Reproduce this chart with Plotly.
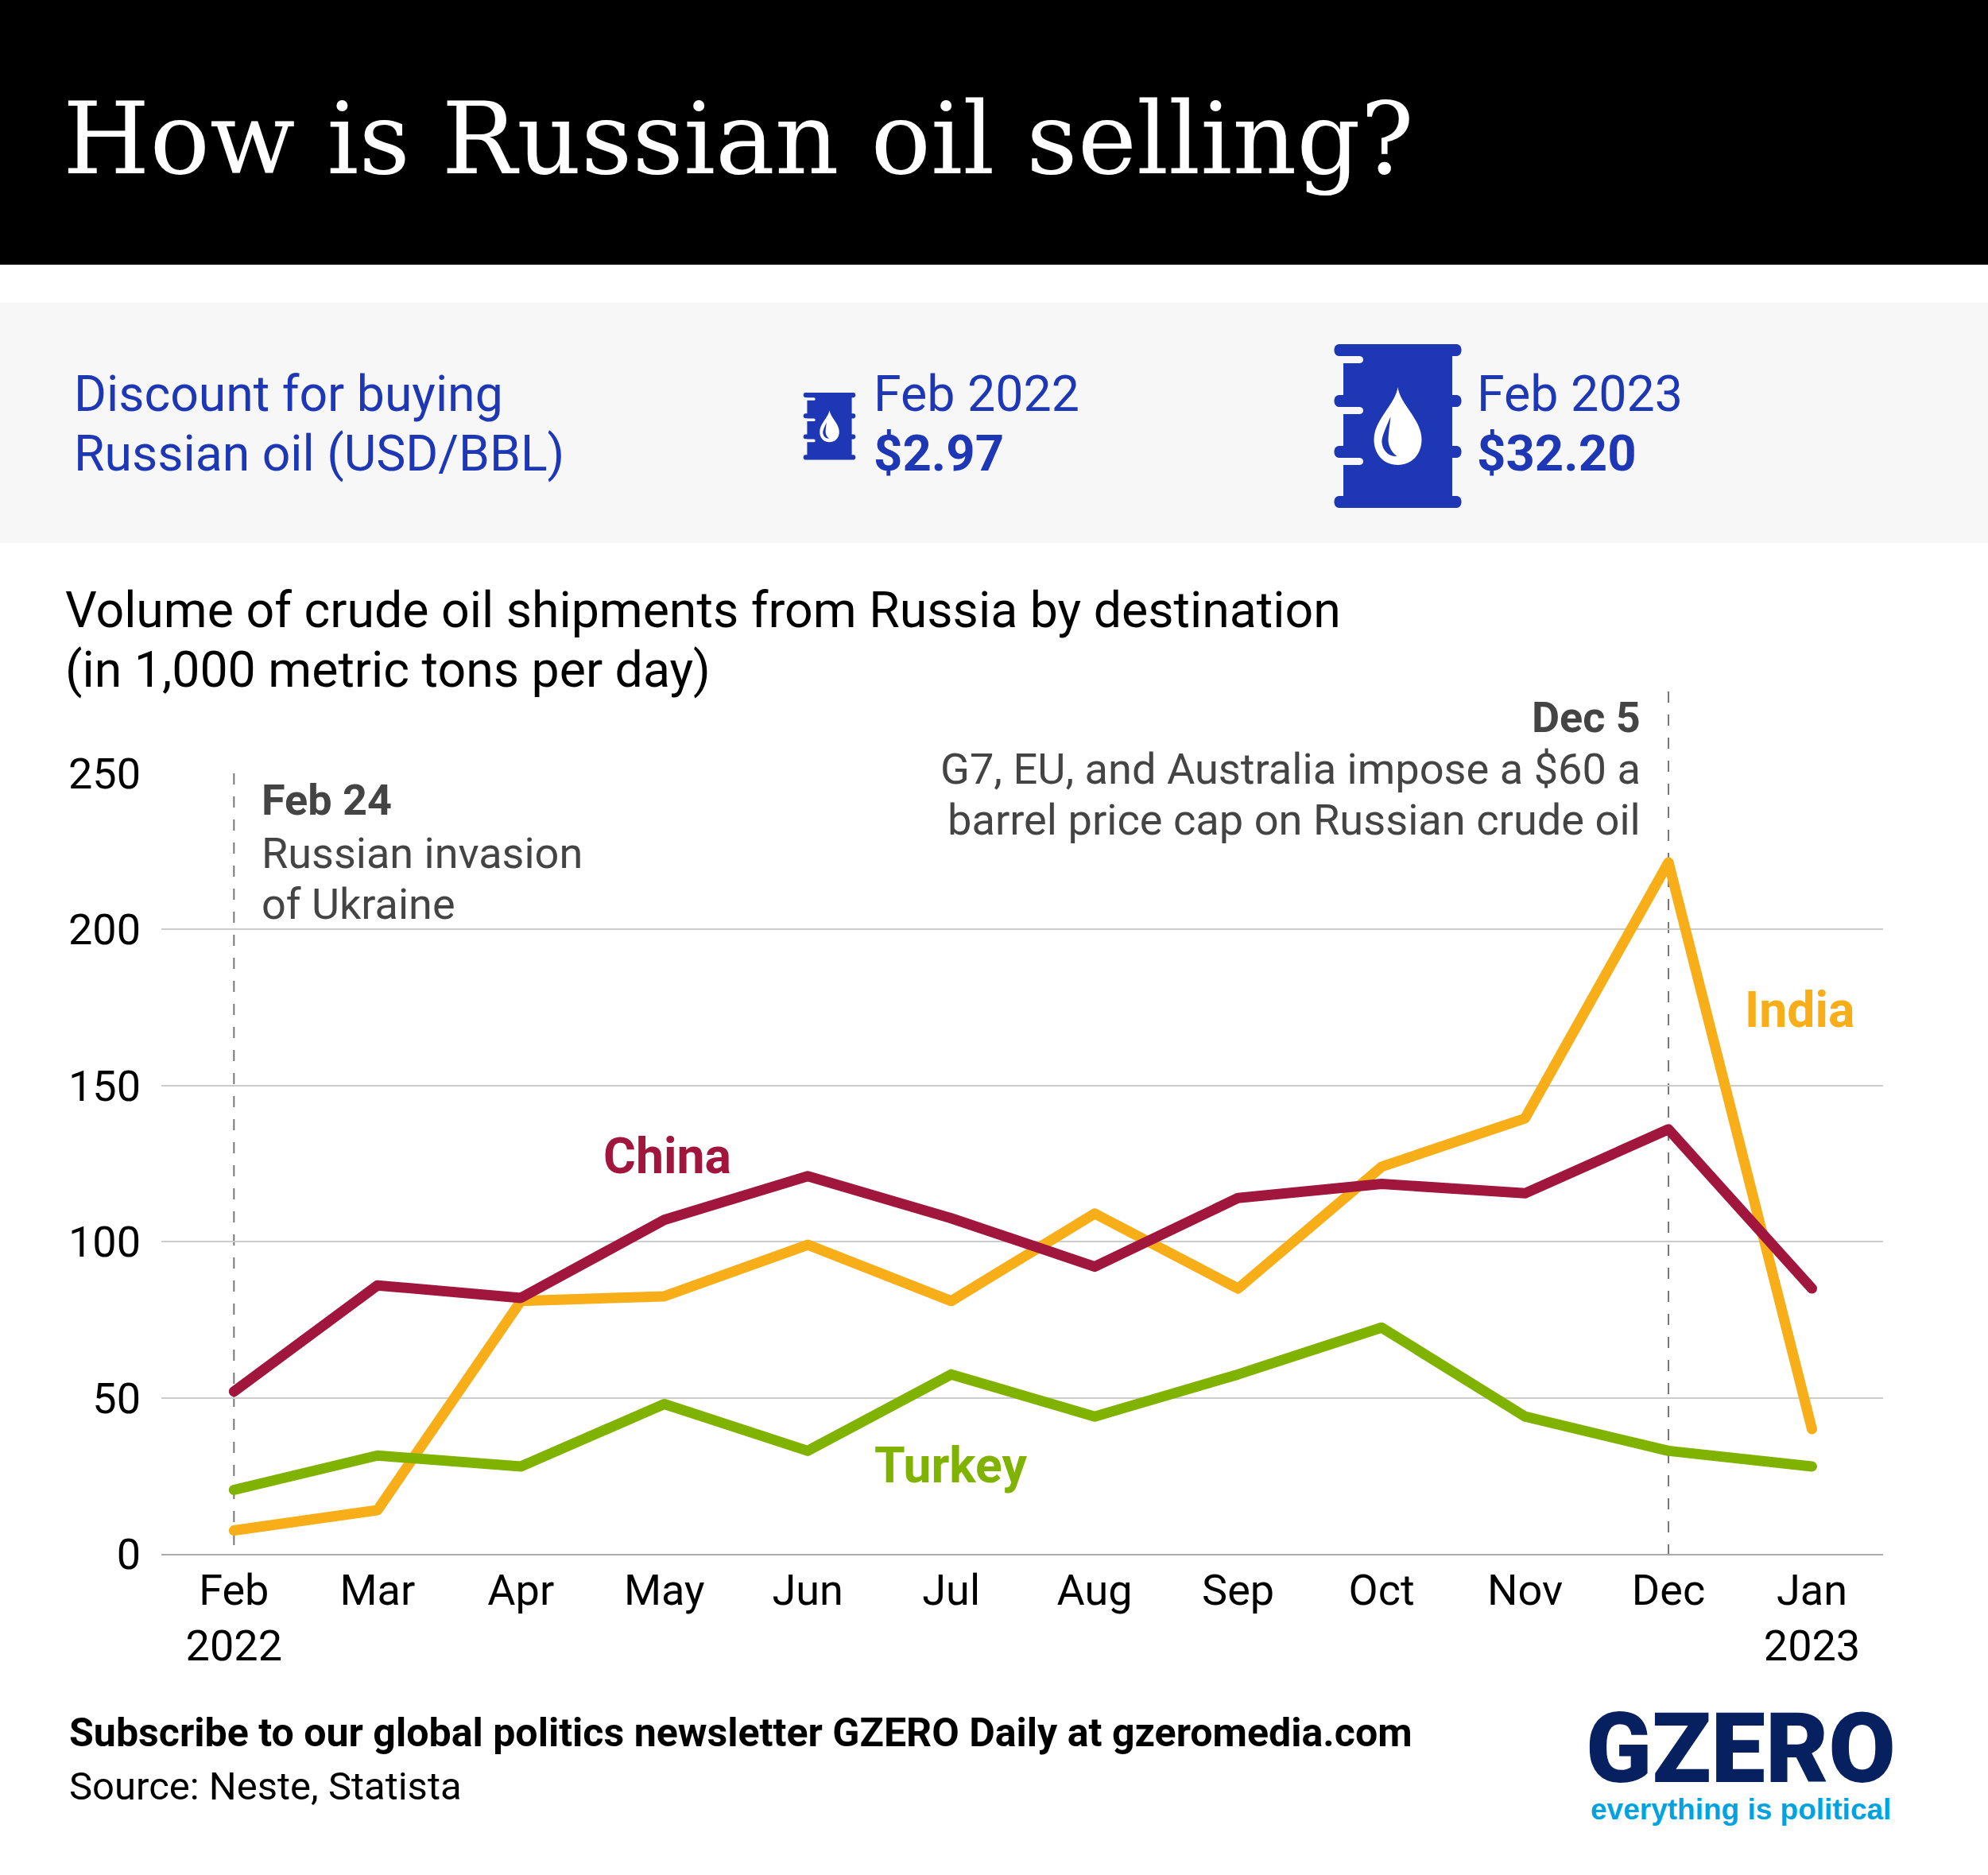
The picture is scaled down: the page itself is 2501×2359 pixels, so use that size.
import plotly.graph_objects as go

W, H = 2501, 2359

months = ["Feb<br>2022", "Mar", "Apr", "May", "Jun", "Jul", "Aug", "Sep", "Oct", "Nov", "Dec", "Jan<br>2023"]
positions = list(range(12))
india = [7.5, 14, 81, 82.5, 99, 81, 109, 85, 124, 139.5, 221.5, 40]
china = [52, 86, 82, 107, 121, 107.5, 92, 114, 118.5, 115.5, 136, 85]
turkey = [20.5, 31.5, 28, 48, 33, 57.5, 44, 57.5, 72.5, 44, 33, 28]
y_ticks = [0, 50, 100, 150, 200, 250]

BLUE = "#1d37b5"
GOLD = "#f7ae18"
RED = "#a0163c"
GREEN = "#80b300"
GREY = "#444444"
FONT = "Roboto"


def fx(x):
    return x / W


def fy(y):
    return 1 - y / H


def p(x, y):
    return f"{fx(x):.5f},{fy(y):.5f}"


fig = go.Figure()
for name, vals, col in [("India", india, GOLD), ("Turkey", turkey, GREEN), ("China", china, RED)]:
    fig.add_trace(go.Scatter(x=positions, y=vals, mode="lines", name=name,
                             line=dict(color=col, width=13), showlegend=False, hoverinfo="skip"))

shapes = []


def rect(x0, y0, x1, y1, color, layer="below"):
    shapes.append(dict(type="rect", xref="paper", yref="paper", x0=fx(x0), x1=fx(x1),
                       y0=fy(y0), y1=fy(y1), fillcolor=color, line_width=0, layer=layer))


rect(0, 0, W, 333, "#000000")
rect(0, 381, W, 683, "#f7f7f7")

for xv, ytop in [(0, 973), (10, 870)]:
    shapes.append(dict(type="line", xref="x", yref="paper", x0=xv, x1=xv, y0=fy(ytop), y1=fy(1955),
                       line=dict(color="#777777", width=2, dash="14px,15px"), layer="between"))

rect(1156, 950, 2089, 995, "#ffffff", "between")


def path(cmds, color):
    shapes.append(dict(type="path", xref="paper", yref="paper", path=cmds, fillcolor=color,
                       line_width=0, layer="above"))


def barrel(cx, top, s):
    X = lambda v: cx + v * s
    Y = lambda v: top + v * s
    P = lambda a, b: p(X(a), Y(b))
    for (a, b) in [(0, 15), (64, 79), (128, 143), (191, 206)]:
        path(f"M{P(-74, a)} L{P(74, a)} C{P(82, a)} {P(82, b)} {P(74, b)} L{P(-74, b)} "
             f"C{P(-82, b)} {P(-82, a)} {P(-74, a)} Z", BLUE)
    shapes.append(dict(type="rect", xref="paper", yref="paper", x0=fx(X(-68.5)), x1=fx(X(68.5)),
                       y0=fy(Y(8)), y1=fy(Y(198)), fillcolor=BLUE, line_width=0, layer="above"))
    for (a, b) in [(15, 24), (79, 88), (143, 152)]:
        path(f"M{P(-82, a)} L{P(-48, a)} C{P(-42, a)} {P(-42, b)} {P(-48, b)} L{P(-82, b)} Z", "#f7f7f7")
    path(f"M{P(0, 54)} C{P(3, 76)} {P(30, 95)} {P(30, 120)} C{P(30, 138)} {P(18, 152)} {P(0, 152)} "
         f"C{P(-18, 152)} {P(-30, 138)} {P(-30, 120)} C{P(-30, 95)} {P(-3, 76)} {P(0, 54)} Z", "#ffffff")
    path(f"M{P(-9, 91)} C{P(-15, 105)} {P(-21, 118)} {P(-20, 124)} C{P(-19, 134)} {P(-11, 142)} {P(-1, 141)} "
         f"C{P(-8, 136)} {P(-12, 128)} {P(-12, 120)} C{P(-12, 112)} {P(-10, 102)} {P(-9, 91)} Z", BLUE)


barrel(1758.5, 433, 1.0)
barrel(1043.5, 494, 0.41)

anns = []


def text(t, x, y, size, color="#000000", anchor="left", weight=400, family=FONT):
    anns.append(dict(text=t, x=fx(x), y=fy(y), xref="paper", yref="paper", showarrow=False,
                     xanchor=anchor, yanchor="middle", align=anchor,
                     font=dict(family=family, size=size, color=color, weight=weight)))


text("How is Russian oil selling?", 77, 175, 125.5, "#ffffff", family="DejaVu Serif")
text("Discount for buying", 91, 496, 62.5, BLUE)
text("Russian oil (USD/BBL)", 91, 570, 62.5, BLUE)
text("Feb 2022", 1097, 496, 62.7, BLUE)
text("$2.97", 1097, 570, 63.5, BLUE, weight=700)
text("Feb 2023", 1856, 496, 62.7, BLUE)
text("$32.20", 1856, 570, 63.5, BLUE, weight=700)
text("Volume of crude oil shipments from Russia by destination", 80, 767, 62.6)
text("(in 1,000 metric tons per day)", 80, 842, 62.6)
text("<b>Feb 24</b>", 327, 1007, 54, GREY)
text("Russian invasion", 327, 1073, 54, GREY)
text("of Ukraine", 327, 1137, 54, GREY)
text("<b>Dec 5</b>", 2066, 902, 54, GREY, "right")
text("G7, EU, and Australia impose a $60 a", 2066, 967, 54.2, GREY, "right")
text("barrel price cap on Russian crude oil", 2066, 1031, 54.2, GREY, "right")
text("China", 839, 1454, 62.5, RED, "center", 700)
text("Turkey", 1196, 1843, 62.5, GREEN, "center", 700)
text("India", 2264, 1271, 62.5, GOLD, "center", 700)
text("Subscribe to our global politics newsletter GZERO Daily at gzeromedia.com", 85, 2180, 50.1, "#000000", weight=700)
text("Source: Neste, Statista", 85, 2247, 49)
text("GZERO", 2190, 2200, 122, "#072160", "center", 900)
text("everything is political", 2190, 2276, 37, "#00a3e0", "center", 700, "Liberation Sans")

fig.update_layout(
    width=W, height=H, margin=dict(l=0, r=0, t=0, b=0, autoexpand=False),
    paper_bgcolor="#ffffff", plot_bgcolor="#ffffff",
    showlegend=False, shapes=shapes, annotations=anns,
    font=dict(family=FONT, color="#000000", size=53),
    xaxis=dict(domain=[fx(203), fx(2369)], range=[-0.506, 11.496], tickmode="array", tickvals=positions,
               ticktext=months, showgrid=False, zeroline=False, showline=True, linecolor="#aaaaaa", linewidth=2,
               ticks="", ticklabelstandoff=-3, tickfont=dict(size=54, family=FONT), anchor="y"),
    yaxis=dict(domain=[fy(1955), fy(973)], range=[0, 250], tickmode="array", tickvals=y_ticks,
               showgrid=True, gridcolor="#cccccc", gridwidth=2, zeroline=False, showline=False,
               ticks="", ticklabelstandoff=25, tickfont=dict(size=54, family=FONT), anchor="x"),
)

post = """
document.body.style.margin='0';
document.querySelectorAll('.js-line').forEach(function(l){l.style.strokeLinecap='round';l.style.strokeLinejoin='round';});
"""
fig.write_html("out.html", post_script=post, config=dict(displayModeBar=False, responsive=False))
